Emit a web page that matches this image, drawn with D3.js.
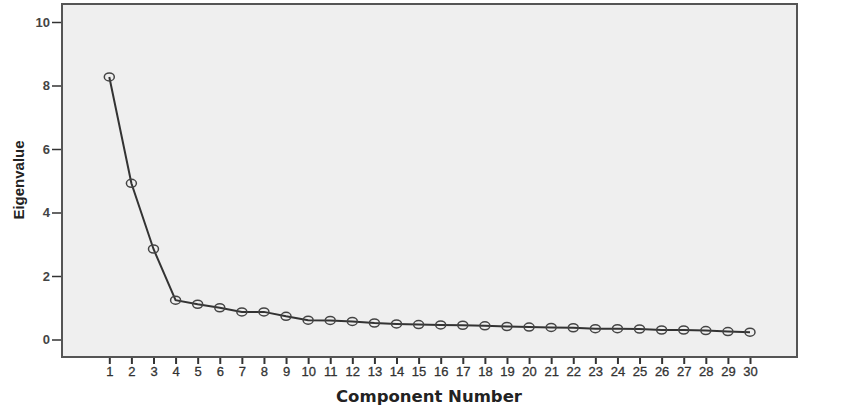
<!DOCTYPE html>
<html>
<head>
<meta charset="utf-8">
<script src="https://cdn.jsdelivr.net/npm/d3@7"></script>
<style>
  html, body { margin: 0; padding: 0; background: #fff; }
  svg { display: block; }
</style>
</head>
<body>
<div id="chart"></div>
<script>
const components = d3.range(1, 31);
const eigenvalues = [
  8.27, 4.92, 2.85, 1.24, 1.11, 1.0, 0.87, 0.87, 0.73, 0.61,
  0.6, 0.57, 0.52, 0.49, 0.47, 0.46, 0.45, 0.43, 0.41, 0.39,
  0.38, 0.37, 0.34, 0.34, 0.33, 0.3, 0.3, 0.28, 0.25, 0.23
];
const yTicks = [0, 2, 4, 6, 8, 10];

const width = 847;
const height = 418;
const frame = { left: 62, top: 4, right: 797, bottom: 357 };

const svg = d3.select("#chart").append("svg")
  .attr("width", width)
  .attr("height", height);

const x = d3.scalePoint()
  .domain(components)
  .range([109.3, 750]);

const y = d3.scaleLinear()
  .domain([0, 10])
  .range([339.5, 22]);

// plot background
svg.append("rect")
  .attr("x", frame.left)
  .attr("y", frame.top)
  .attr("width", frame.right - frame.left)
  .attr("height", frame.bottom - frame.top)
  .attr("fill", "#efefef")
  .attr("stroke", "#555")
  .attr("stroke-width", 2);

// y axis
const yAxis = svg.append("g")
  .attr("transform", `translate(${frame.left - 1},0)`)
  .call(d3.axisLeft(y).tickValues(yTicks).tickSize(9).tickPadding(2));
yAxis.select(".domain").remove();
yAxis.selectAll(".tick line").attr("stroke", "#333").attr("stroke-width", 1.5);
yAxis.selectAll(".tick text")
  .attr("fill", "#444")
  .attr("font-family", "Liberation Sans, Arial, sans-serif")
  .attr("font-weight", "bold")
  .attr("font-size", 13);

// x axis
const xAxis = svg.append("g")
  .attr("transform", `translate(0,${frame.bottom + 1})`)
  .call(d3.axisBottom(x).tickSize(6).tickPadding(3));
xAxis.select(".domain").remove();
xAxis.selectAll(".tick line").attr("stroke", "#333").attr("stroke-width", 2);
xAxis.selectAll(".tick text")
  .attr("fill", "#333")
  .attr("font-family", "Liberation Sans, Arial, sans-serif")
  .attr("font-size", 13)
  .attr("stroke", "#333")
  .attr("stroke-width", 0.3);

// line
const line = d3.line()
  .x((d, i) => x(components[i]))
  .y((d) => y(d));

svg.append("path")
  .datum(eigenvalues)
  .attr("fill", "none")
  .attr("stroke", "#333")
  .attr("stroke-width", 2)
  .attr("d", line);

svg.append("g")
  .selectAll("ellipse")
  .data(eigenvalues)
  .join("ellipse")
  .attr("cx", (d, i) => x(components[i]))
  .attr("cy", (d) => y(d))
  .attr("rx", 5)
  .attr("ry", 4)
  .attr("fill", "none")
  .attr("stroke", "#444")
  .attr("stroke-width", 1.5);

// titles
svg.append("text")
  .attr("x", 429)
  .attr("y", 402)
  .attr("text-anchor", "middle")
  .attr("font-family", "DejaVu Sans, Verdana, sans-serif")
  .attr("font-weight", "bold")
  .attr("font-size", 16.5)
  .attr("fill", "#222")
  .text("Component Number");

svg.append("text")
  .attr("transform", "translate(24,180) rotate(-90)")
  .attr("text-anchor", "middle")
  .attr("font-family", "Liberation Sans, Arial, sans-serif")
  .attr("font-weight", "bold")
  .attr("font-size", 15)
  .attr("fill", "#222")
  .text("Eigenvalue");
</script>
</body>
</html>
